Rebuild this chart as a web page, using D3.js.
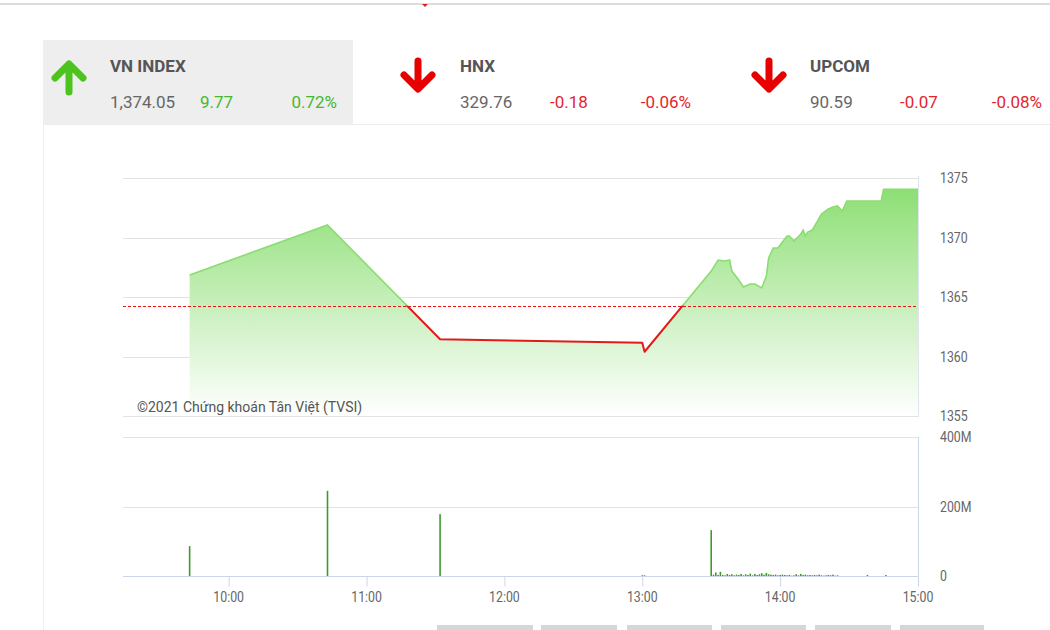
<!DOCTYPE html>
<html>
<head>
<meta charset="utf-8">
<script src="https://cdn.jsdelivr.net/npm/d3@7"></script>
<style>
html,body{margin:0;padding:0;background:#fff;}
svg{display:block;font-family:Roboto,"Noto Sans",sans-serif;}
</style>
</head>
<body>
<svg id="c" width="1050" height="630"></svg>
<script>
// ---------- DATA ----------
const indexNames = ["VN INDEX", "HNX", "UPCOM"];
const indexValues = ["1,374.05", "329.76", "90.59"];
const indexChanges = ["9.77", "-0.18", "-0.07"];
const indexPcts = ["0.72%", "-0.06%", "-0.08%"];
const indexUp = [true, false, false];

const refPrice = 1364.28;
const priceTimes = ["09:43","10:43","11:32","13:00","13:01","13:30","13:33","13:36","13:38","13:39","13:42","13:44","13:47","13:49","13:52","13:54","13:55","13:57","13:59","14:01","14:03","14:04","14:06","14:09","14:10","14:11","14:12","14:14","14:16","14:18","14:21","14:23","14:25","14:27","14:29","14:44","14:45","15:00"];
const priceValues = [1366.85,1371.05,1361.45,1361.16,1360.40,1367.18,1368.11,1368.03,1368.11,1367.18,1366.43,1365.84,1366.09,1366.09,1365.76,1366.76,1368.28,1369.12,1369.12,1369.62,1370.13,1370.13,1369.71,1370.29,1370.63,1370.13,1370.46,1370.63,1371.30,1371.97,1372.39,1372.56,1372.65,1372.23,1373.07,1373.07,1374.05,1374.05];

const volTimes = ["09:43","10:43","11:32","13:00","13:01","13:30","13:31","13:32","13:33","13:34","13:35","13:36","13:37","13:38","13:39","13:40","13:41","13:42","13:43","13:44","13:45","13:46","13:47","13:48","13:49","13:50","13:51","13:52","13:53","13:54","13:55","13:56","13:57","13:58","13:59","14:00","14:01","14:02","14:03","14:04","14:05","14:06","14:07","14:08","14:09","14:10","14:11","14:12","14:13","14:14","14:15","14:16","14:17","14:18","14:19","14:20","14:21","14:22","14:23","14:24","14:25","14:38","14:46"];
const volValues = [86,245,178,2,2,132,4,10,3,12,3,2,6,3,5,2,4,3,6,2,5,3,7,2,6,3,5,8,4,9,5,4,3,4,2,3,4,3,2,3,1,2,5,2,6,3,4,2,3,2,3,2,4,2,1,2,3,2,4,1,2,3,3];

const priceTicks = [1355,1360,1365,1370,1375];
const volTicks = [0,200,400];
const volTickLabels = ["0","200M","400M"];
const timeTicks = ["10:00","11:00","12:00","13:00","14:00","15:00"];
const copyright = "©2021 Chứng khoán Tân Việt (TVSI)";

// ---------- HELPERS ----------
const toMin = s => { const [h,m] = s.split(":").map(Number); return h*60+m; };
const svg = d3.select("#c");
const labelColor = "#666";
function ctext(g, x, y, str, size, anchor, color, sx) {
  return g.append("text")
    .attr("transform", `translate(${x},${y}) scale(${sx||0.88},1)`)
    .attr("text-anchor", anchor || "start")
    .attr("font-size", size).attr("fill", color || labelColor)
    .text(str);
}

// ---------- PAGE FRAME ----------
svg.append("rect").attr("x",0).attr("y",3).attr("width",1050).attr("height",2).attr("fill","#dcdde1");
svg.append("path").attr("d","M422,4 L428,4 L425,7 Z").attr("fill","#e02020");
svg.append("rect").attr("x",43).attr("y",40).attr("width",310).attr("height",84).attr("fill","#eeeeee");
svg.append("line").attr("x1",43).attr("x2",1050).attr("y1",124.5).attr("y2",124.5).attr("stroke","#ececec");
svg.append("line").attr("x1",43.5).attr("x2",43.5).attr("y1",124).attr("y2",630).attr("stroke","#efefef");

// ---------- HEADER ----------
const headerX = [110, 460, 810];
const pctEnd = [337, 691, 1042];
const arrowX = [69, 418, 769];
const greenC = "#45b82f", redC = "#e3262d";
indexNames.forEach((n, i) => {
  const x0 = headerX[i];
  const g = svg.append("g");
  g.append("text").attr("x", x0).attr("y", 72).attr("font-size", 17).attr("font-weight", "bold").attr("fill", "#555").text(n);
  g.append("text").attr("x", x0).attr("y", 108).attr("font-size", 17).attr("fill", "#666").text(indexValues[i]);
  const col = indexUp[i] ? greenC : redC;
  g.append("text").attr("x", x0 + 90).attr("y", 108).attr("font-size", 17).attr("fill", col).text(indexChanges[i]);
  g.append("text").attr("x", pctEnd[i]).attr("y", 108).attr("font-size", 17).attr("fill", col).attr("text-anchor", "end").text(indexPcts[i]);
  const ax = arrowX[i];
  const ac = indexUp[i] ? "#4cc41d" : "#e60000";
  const d = indexUp[i]
    ? `M${ax},92 L${ax},65 M${ax-14},78 L${ax},64 L${ax+14},78`
    : `M${ax},61 L${ax},88 M${ax-14},75 L${ax},89 L${ax+14},75`;
  g.append("path").attr("d", d).attr("fill", "none").attr("stroke", ac)
    .attr("stroke-width", 7).attr("stroke-linecap", "round").attr("stroke-linejoin", "round");
});

// ---------- SCALES ----------
const x = d3.scaleLinear().domain([toMin("09:14"), toMin("15:00")]).range([123, 918]);
const yP = d3.scaleLinear().domain([1355, 1375]).range([416, 178]);
const yV = d3.scaleLinear().domain([0, 400]).range([576, 437]);

const priceData = priceTimes.map((t, i) => ({t: toMin(t), v: priceValues[i]}));
const volData = volTimes.map((t, i) => ({t: toMin(t), v: volValues[i]}));

// ---------- PRICE CHART ----------
const pg = svg.append("g");
pg.selectAll("line.grid").data(priceTicks).join("line")
  .attr("x1", 123).attr("x2", 918)
  .attr("y1", d => Math.round(yP(d)) + 0.5).attr("y2", d => Math.round(yP(d)) + 0.5)
  .attr("stroke", "#e3e3e3");

const defs = svg.append("defs");
const grad = defs.append("linearGradient").attr("id", "ag").attr("gradientUnits", "userSpaceOnUse")
  .attr("x1", 0).attr("x2", 0).attr("y1", yP(1375)).attr("y2", yP(1355));
grad.append("stop").attr("offset", 0).attr("stop-color", "rgb(136,221,110)");
grad.append("stop").attr("offset", 1).attr("stop-color", "rgb(255,255,255)");

const area = d3.area().x(d => x(d.t)).y0(yP(1355)).y1(d => yP(d.v));
pg.append("path").datum(priceData).attr("d", area).attr("fill", "url(#ag)");

defs.append("clipPath").attr("id", "above").append("rect")
  .attr("x", 0).attr("y", 0).attr("width", 1050).attr("height", yP(refPrice));
defs.append("clipPath").attr("id", "below").append("rect")
  .attr("x", 0).attr("y", yP(refPrice)).attr("width", 1050).attr("height", 630);

const line = d3.line().x(d => x(d.t)).y(d => yP(d.v));
pg.append("path").datum(priceData).attr("d", line).attr("fill", "none")
  .attr("stroke", "rgb(138,221,112)").attr("stroke-width", 1.6).attr("clip-path", "url(#above)");
pg.append("path").datum(priceData).attr("d", line).attr("fill", "none")
  .attr("stroke", "#e11a1a").attr("stroke-width", 2).attr("stroke-linejoin", "round").attr("clip-path", "url(#below)");

const yRefPx = Math.round(yP(refPrice)) + 0.5;
pg.append("line").attr("x1", 123).attr("x2", 918)
  .attr("y1", yRefPx).attr("y2", yRefPx)
  .attr("stroke", "#ee1111").attr("stroke-width", 1).attr("stroke-dasharray", "3,2")
  .attr("shape-rendering", "crispEdges");

pg.append("line").attr("x1", 918.5).attr("x2", 918.5).attr("y1", 176).attr("y2", 417).attr("stroke", "#dfe5f0");

priceTicks.forEach(t => ctext(pg, 940, yP(t) + 5, String(t), 14, "start", labelColor));

pg.append("text").attr("x", 137).attr("y", 412).attr("font-size", 14).attr("fill", "#555").text(copyright);

// ---------- VOLUME CHART ----------
const vg = svg.append("g");
vg.selectAll("line.vgrid").data([200, 400]).join("line")
  .attr("x1", 123).attr("x2", 918)
  .attr("y1", d => Math.round(yV(d)) + 0.5).attr("y2", d => Math.round(yV(d)) + 0.5)
  .attr("stroke", "#e3e3e3");
vg.append("line").attr("x1", 918.5).attr("x2", 918.5).attr("y1", 437).attr("y2", 576).attr("stroke", "#ccd6eb");

vg.selectAll("rect.bar").data(volData).join("rect")
  .attr("x", d => x(d.t) - 0.8).attr("width", 1.6)
  .attr("y", d => yV(d.v)).attr("height", d => yV(0) - yV(d.v))
  .attr("fill", "#3f9a2e");

const xAxis = d3.axisBottom(x)
  .tickValues(timeTicks.map(toMin))
  .tickSize(10).tickPadding(4)
  .tickFormat(m => { const h = Math.floor(m / 60), mm = m % 60; return String(h).padStart(2,"0") + ":" + String(mm).padStart(2,"0"); });
const xa = vg.append("g").attr("transform", "translate(0,576.5)").call(xAxis);
xa.select(".domain").attr("stroke", "#ccd6eb").attr("d", "M123,0H918");
xa.selectAll(".tick line").attr("stroke", "#ccd6eb");
xa.selectAll(".tick text").remove();
timeTicks.forEach(t => ctext(vg, x(toMin(t)), 602, t, 14, "middle", labelColor));

volTicks.forEach((t, i) => ctext(vg, 940, yV(t) + 5, volTickLabels[i], 14, "start", labelColor));

// ---------- BOTTOM TABS ----------
const tabStarts = [437, 541, 627, 721, 815, 900];
const tabEnds = [533, 617, 712, 806, 891, 984];
tabStarts.forEach((s, i) => svg.append("rect").attr("x", s).attr("y", 625).attr("width", tabEnds[i] - s).attr("height", 5).attr("fill", "#d6d6d6"));
</script>
</body>
</html>
